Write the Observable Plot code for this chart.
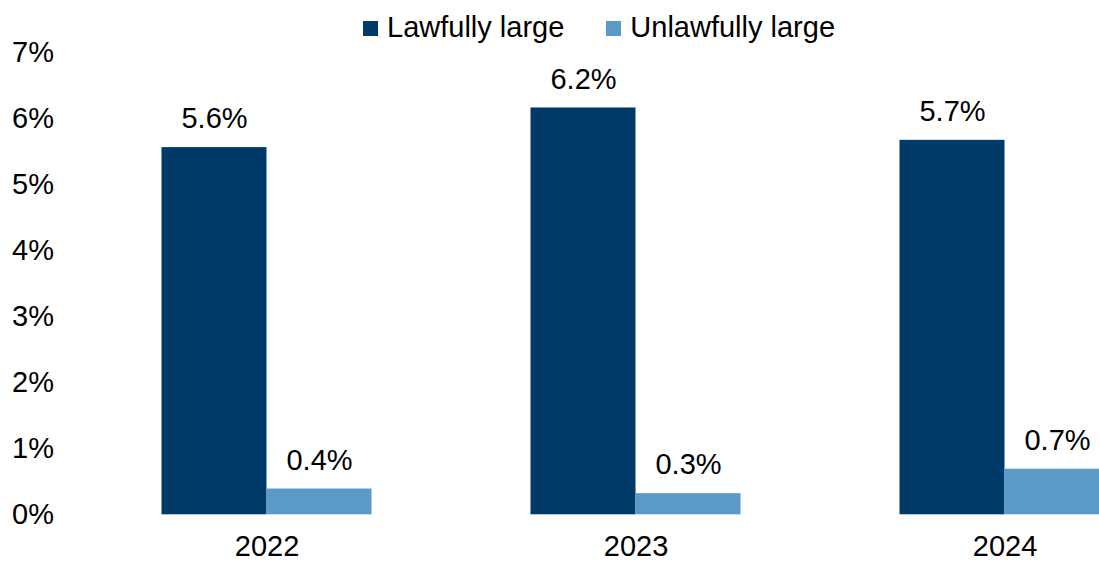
<!DOCTYPE html>
<html>
<head>
<meta charset="utf-8">
<script src="https://cdn.jsdelivr.net/npm/d3@7"></script>
<script src="https://cdn.jsdelivr.net/npm/@observablehq/plot@0.6"></script>
<style>
  html, body { margin: 0; padding: 0; background: #fff; overflow: hidden; }
  #wrap { position: relative; width: 1099px; height: 563px; overflow: hidden; }
  #chart svg { max-width: none !important; display: block; }
  #legend { position: absolute; left: 363px; top: 11px; display: flex; align-items: center;
            font-family: "Liberation Sans", Arial, sans-serif; font-size: 29px; line-height: 33px; color: #000; }
  #legend .item { display: flex; align-items: center; margin-right: 42px; }
  #legend .sw { width: 15px; height: 15px; margin-right: 9px; position: relative; top: 1px; }
</style>
</head>
<body>
<div id="wrap"><div id="chart"></div><div id="legend"></div></div>
<script>
const years = ["2022", "2023", "2024"];
const series = ["Lawfully large", "Unlawfully large"];
const lawful = [5.56, 6.16, 5.67];
const unlawful = [0.39, 0.32, 0.69];
const colors = ["#003A69", "#5B9AC7"];
const yTicks = [0, 1, 2, 3, 4, 5, 6, 7];

const data = [];
years.forEach((yr, i) => {
  data.push({year: yr, series: series[0], value: lawful[i]});
  data.push({year: yr, series: series[1], value: unlawful[i]});
});

const chart = Plot.plot({
  width: 1189,
  height: 563,
  marginTop: 52,
  marginBottom: 48.7,
  marginLeft: 81.5,
  marginRight: 0,
  style: {fontFamily: "Liberation Sans, Arial, sans-serif", fontSize: "29px", color: "#000", background: "transparent", maxWidth: "none"},
  fx: {domain: years, padding: 0, tickSize: 0, tickPadding: 21, label: null, axis: "bottom"},
  x: {domain: series, axis: null, paddingInner: 0, paddingOuter: 0.749},
  y: {domain: [0, 7], ticks: yTicks, tickFormat: d => d + "%", tickSize: 0, tickPadding: 28.5, label: null},
  color: {domain: series, range: colors},
  marks: [
    Plot.barY(data, {fx: "year", x: "series", y: "value", fill: "series"}),
    Plot.text(data, {fx: "year", x: "series", y: "value", text: d => d.value.toFixed(1) + "%",
      dy: -28.5, lineAnchor: "middle", fill: "#000", fontSize: 29})
  ]
});
chart.style.maxWidth = "none";
document.getElementById("chart").appendChild(chart);

const legend = document.getElementById("legend");
series.forEach((s, i) => {
  const item = document.createElement("div");
  item.className = "item";
  const sw = document.createElement("div");
  sw.className = "sw";
  sw.style.background = colors[i];
  const t = document.createElement("span");
  t.textContent = s;
  item.appendChild(sw);
  item.appendChild(t);
  legend.appendChild(item);
});
</script>
</body>
</html>
